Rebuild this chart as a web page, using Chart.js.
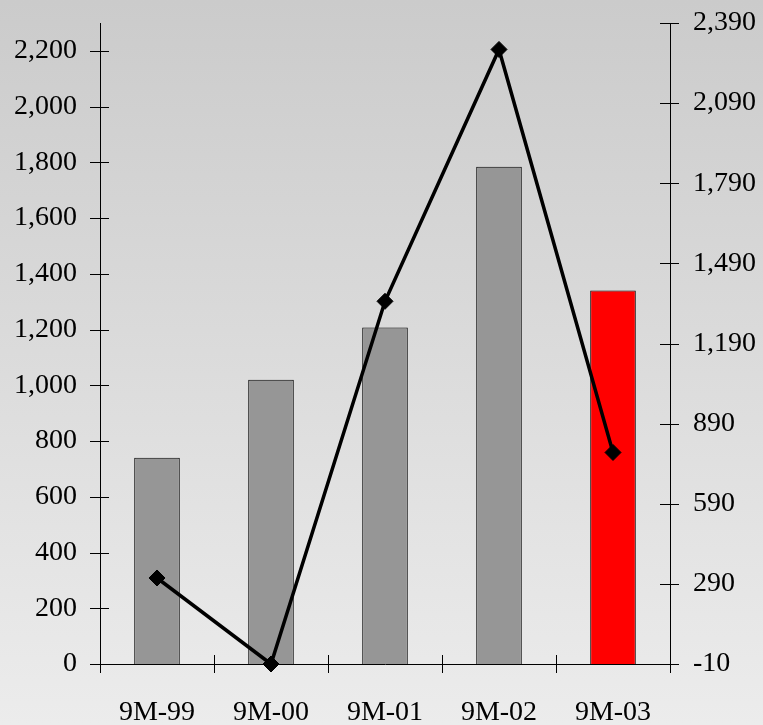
<!DOCTYPE html>
<html>
<head>
<meta charset="utf-8">
<script src="https://cdn.jsdelivr.net/npm/chart.js@4"></script>
<style>
  html, body { margin: 0; padding: 0; background: #dcdcdc; }
  #wrap { width: 763px; height: 725px; }
</style>
</head>
<body>
<div id="wrap"><canvas id="c" width="763" height="725"></canvas></div>
<script>
// Periods on the category axis
const categories = ['9M-99', '9M-00', '9M-01', '9M-02', '9M-03'];
// Column series (left axis)
const barValues = [740, 1020, 1207, 1784, 1340];
// Line series (right axis)
const lineValues = [312, -10, 1348, 2291, 782];
// Tick values shown on each axis
const leftTicks = [0, 200, 400, 600, 800, 1000, 1200, 1400, 1600, 1800, 2000, 2200];
const rightTicks = [-10, 290, 590, 890, 1190, 1490, 1790, 2090, 2390];
// Axis ranges
const leftRange = { min: 0, max: 2300 };
const rightRange = { min: -10, max: 2390 };

const FONT = { family: "'Liberation Serif', 'Times New Roman', serif", size: 28 };
const fmt = v => Number(v).toLocaleString('en-US');

// Soft vertical gradient behind the whole chart
const backdrop = {
  id: 'backdrop',
  beforeDraw(chart) {
    const { ctx, width, height } = chart;
    const g = ctx.createLinearGradient(0, 0, 0, height);
    g.addColorStop(0, '#cbcbcb');
    g.addColorStop(1, '#ececec');
    ctx.save();
    ctx.fillStyle = g;
    ctx.fillRect(0, 0, width, height);
    ctx.restore();
  }
};

// Tick marks that cross the axis lines
const crossTicks = {
  id: 'crossTicks',
  beforeDatasetsDraw(chart) {
    const { ctx, scales } = chart;
    const x = scales.x, yl = scales.yL, yr = scales.yR;
    ctx.save();
    ctx.strokeStyle = '#000';
    ctx.lineWidth = 1;
    ctx.beginPath();
    yl.ticks.forEach(t => {
      const py = Math.round(yl.getPixelForValue(t.value)) + 0.5;
      ctx.moveTo(x.left - 10, py); ctx.lineTo(x.left + 9, py);
    });
    yr.ticks.forEach(t => {
      const py = Math.round(yr.getPixelForValue(t.value)) + 0.5;
      ctx.moveTo(x.right - 10, py); ctx.lineTo(x.right + 9, py);
    });
    for (let i = 0; i <= categories.length; i++) {
      const px = Math.round(x.getPixelForValue(i - 0.5)) + 0.5;
      ctx.moveTo(px, yl.bottom - 9); ctx.lineTo(px, yl.bottom + 9);
    }
    ctx.stroke();
    ctx.restore();
  }
};

// Vertical axes: fixed width, no extra room reserved for end labels
const fitVertical = w => s => {
  s.width = w;
  s.paddingTop = 0;
  s.paddingBottom = 0;
};

new Chart(document.getElementById('c'), {
  data: {
    labels: categories,
    datasets: [
      {
        type: 'line',
        data: lineValues,
        yAxisID: 'yR',
        borderColor: '#000',
        borderWidth: 3.5,
        pointStyle: 'rectRot',
        pointRadius: 8,
        pointBackgroundColor: '#000',
        pointBorderColor: '#000',
        pointBorderWidth: 1,
        tension: 0,
        clip: false,
        order: 0
      },
      {
        type: 'bar',
        data: barValues,
        yAxisID: 'yL',
        backgroundColor: categories.map((c, i) => i === categories.length - 1 ? '#ff0000' : '#969696'),
        borderColor: '#000',
        borderWidth: 1,
        borderSkipped: 'bottom',
        barPercentage: 0.8,
        categoryPercentage: 0.5,
        order: 1
      }
    ]
  },
  options: {
    responsive: false,
    animation: false,
    events: [],
    layout: { padding: { top: 23, left: 0, right: 0, bottom: 0 } },
    plugins: { legend: { display: false }, tooltip: { enabled: false } },
    scales: {
      x: {
        offset: true,
        grid: { display: false, drawTicks: false },
        border: { display: true, color: '#000', width: 1 },
        ticks: { color: '#000', font: FONT, padding: 32, maxRotation: 0 },
        afterFit(s) { s.height = 61; s.paddingLeft = 0; s.paddingRight = 0; }
      },
      yL: {
        position: 'left',
        min: leftRange.min,
        max: leftRange.max,
        grid: { display: false, drawTicks: false },
        border: { display: true, color: '#000', width: 1 },
        ticks: { color: '#000', font: FONT, padding: 23, callback: v => fmt(v) },
        afterBuildTicks(s) { s.ticks = leftTicks.map(v => ({ value: v })); },
        afterFit: fitVertical(100)
      },
      yR: {
        position: 'right',
        min: rightRange.min,
        max: rightRange.max,
        grid: { display: false, drawTicks: false },
        border: { display: true, color: '#000', width: 1 },
        ticks: { color: '#000', font: FONT, padding: 23, callback: v => fmt(v) },
        afterBuildTicks(s) { s.ticks = rightTicks.map(v => ({ value: v })); },
        afterFit: fitVertical(93)
      }
    }
  },
  plugins: [backdrop, crossTicks]
});
</script>
</body>
</html>
